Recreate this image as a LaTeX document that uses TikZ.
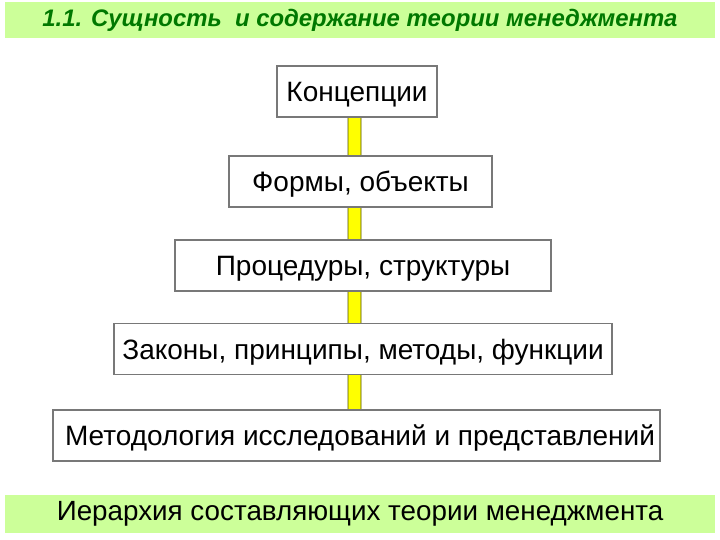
\documentclass[tikz,border=0pt]{standalone}
\usepackage{fontspec}
\setmainfont{Liberation Sans}
\definecolor{bar}{RGB}{204,255,153}
\definecolor{head}{RGB}{0,120,0}
\definecolor{edge}{RGB}{120,120,120}
\definecolor{shaft}{RGB}{255,255,0}
\usetikzlibrary{backgrounds}
\tikzstyle{base}=[x=1pt, y=-1pt, inner sep=0pt, outer sep=0pt]
\tikzstyle{band}=[fill=bar, draw=none, minimum width=710pt, minimum height=36pt]
\tikzstyle{level}=[draw=edge, line width=1.3pt, fill=white, minimum height=51pt,
    text height=20pt, text depth=0pt, font=\fontsize{28}{32}\selectfont]

\begin{document}
\begin{tikzpicture}[base]
    \path [use as bounding box] (0,0) rectangle (720,540);
    % title and caption
    \node [band] (title) at (360,20.5) {};
    \node [head, font=\fontsize{23.9}{28}\selectfont\bfseries\itshape] at (title) {1.1. Сущность \ и содержание теории менеджмента};
    \node [band, minimum height=38pt] (caption) at (360,514) {};
    \node [font=\fontsize{27.8}{32}\selectfont] at (caption) {Иерархия составляющих теории менеджмента};
    % hierarchy
    \node [level, minimum width=160pt] (konc) at (357,91.5) {Концепции};
    \node [level, minimum width=263pt] (form) at (360.5,181.5) {Формы, объекты};
    \node [level, minimum width=376pt] (proc) at (363,265.5) {Процедуры, структуры};
    \node [level, minimum width=498pt] (zak) at (363,349) {Законы, принципы, методы, функции};
    \node [level, minimum width=607pt] (metod) at (356.5,435.5) {\hspace*{7pt}Методология исследований и представлений};
    \coordinate (foot) at (354.5,0 |- metod.north);
    \coordinate (tip) at (354.5,0 |- konc.south);
    \begin{pgfonlayer}{background}
        \draw [draw=black!70!shaft, fill=shaft, line width=0.8pt]
            ([xshift=-6.5pt]foot) -- ([xshift=-6.5pt,yshift=1.8pt]tip)
            -- ([xshift=-11pt,yshift=1.8pt]tip) -- ([yshift=18pt]tip)
            -- ([xshift=11pt,yshift=1.8pt]tip) -- ([xshift=6.5pt,yshift=1.8pt]tip)
            -- ([xshift=6.5pt]foot) -- cycle;
    \end{pgfonlayer}
\end{tikzpicture}
\end{document}
